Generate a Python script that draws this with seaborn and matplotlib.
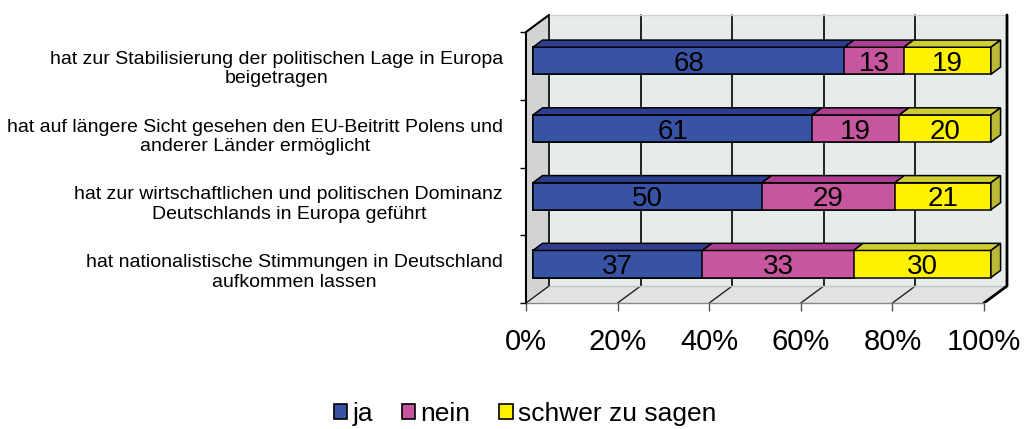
import numpy as np
import pandas as pd
import seaborn as sns
import matplotlib.pyplot as plt
from matplotlib.patches import Polygon, Patch
from matplotlib.transforms import Affine2D

# data
categories = [
    "hat zur Stabilisierung der politischen Lage in Europa\nbeigetragen",
    "hat auf längere Sicht gesehen den EU-Beitritt Polens und\nanderer Länder ermöglicht",
    "hat zur wirtschaftlichen und politischen Dominanz\nDeutschlands in Europa geführt",
    "hat nationalistische Stimmungen in Deutschland\naufkommen lassen",
]
ja = [68, 61, 50, 37]
nein = [13, 19, 29, 33]
schwer = [19, 20, 21, 30]
series = ["ja", "nein", "schwer zu sagen"]
xticks = [0, 20, 40, 60, 80, 100]
xtick_labels = [f"{t}%" for t in xticks]

front_colors = ["#3953a4", "#c6569e", "#fff200"]
top_colors = ["#2e3e90", "#ad3f93", "#cfcd34"]
side_color = "#b9b935"

sns.set_theme(style="white")
plt.rcParams["font.family"] = ["Liberation Sans", "DejaVu Sans"]
plt.rcParams["text.color"] = "black"
plt.rcParams["xtick.labelcolor"] = "black"
plt.rcParams["ytick.labelcolor"] = "black"

df = pd.DataFrame({"cat": categories, "ja": ja, "nein": nein, "schwer": schwer})
df["c1"] = df["ja"]
df["c2"] = df["ja"] + df["nein"]
df["c3"] = df["c2"] + df["schwer"]

W, H = 1024, 429
fig = plt.figure(figsize=(W / 100, H / 100), dpi=100)
ax = fig.add_axes([526 / W, (H - 303) / H, (1012 - 526) / W, (303 - 13) / H])

# 3D look: depth vector in data units (y axis is inverted by seaborn)
PX = (984 - 526) / 100
DX = 23 / PX
DY = -17 / 67.75
F0, BD = 0.3, 0.42
BAR_H = 0.4
ox, oy = F0 * DX, F0 * DY
ybot, ytop = 3.5, -0.5

# walls and floor
ax.add_patch(Polygon([(DX, ybot + DY), (100 + DX, ybot + DY), (100 + DX, ytop + DY), (DX, ytop + DY)],
                     fc="#e6ebeb", ec="none", zorder=0))
ax.add_patch(Polygon([(0, ybot), (DX, ybot + DY), (DX, ytop + DY), (0, ytop)],
                     fc="#d2d3d4", ec="none", zorder=0))
ax.add_patch(Polygon([(0, ybot), (100, ybot), (100 + DX, ybot + DY), (DX, ybot + DY)],
                     fc="#e1e2e3", ec="none", zorder=0))
for t in xticks[:-1]:
    ax.plot([t + DX, t + DX], [ybot + DY, ytop + DY], color="black", lw=1.2, zorder=0.5)
    ax.plot([t, t + DX], [ybot, ybot + DY], color="#222222", lw=1, zorder=0.5, clip_on=False)
ax.plot([DX, 100 + DX], [ybot + DY, ybot + DY], color="#c4c4c4", lw=1, zorder=0.5)
ax.plot([DX, 100 + DX], [ytop + DY, ytop + DY], color="#cfcfcf", lw=1, zorder=0.5)
ax.plot([0, 100], [ybot, ybot], color="#888888", lw=1, zorder=0.5, clip_on=False)
ax.plot([100 + DX, 100 + DX, 100], [ytop + DY, ybot + DY, ybot], color="black", lw=2, zorder=0.5)
ax.plot([0, 0, DX], [ybot, ytop, ytop + DY], color="black", lw=1.5, zorder=0.5, clip_on=False)

# stacked bars (front faces), drawn back to front
n0 = len(ax.patches)
for col, color in [("c3", front_colors[2]), ("c2", front_colors[1]), ("c1", front_colors[0])]:
    sns.barplot(data=df, x=col, y="cat", order=categories, color=color, saturation=1,
                width=BAR_H, edgecolor="black", linewidth=1.1, orient="h", errorbar=None, ax=ax)
for p in ax.patches[n0:]:
    p.set_transform(Affine2D().translate(ox, oy) + ax.transData)
    p.set_zorder(3)

# top and side faces + value labels
for i, row in df.iterrows():
    starts = [0, row["c1"], row["c2"]]
    ends = [row["c1"], row["c2"], row["c3"]]
    vals = [row["ja"], row["nein"], row["schwer"]]
    yt = i - BAR_H / 2 + oy
    yb = i + BAR_H / 2 + oy
    for x0, x1, v, tc in zip(starts, ends, vals, top_colors):
        ax.add_patch(Polygon([(x0 + ox, yt), (x1 + ox, yt), (x1 + ox + BD * DX, yt + BD * DY),
                              (x0 + ox + BD * DX, yt + BD * DY)],
                             fc=tc, ec="black", lw=1.1, zorder=3))
        ax.text((x0 + x1) / 2 + ox, i + oy, str(v), ha="center", va="center_baseline",
                fontsize=20, color="black", zorder=4)
    x1 = ends[-1] + ox
    ax.add_patch(Polygon([(x1, yt), (x1, yb), (x1 + BD * DX, yb + BD * DY), (x1 + BD * DX, yt + BD * DY)],
                         fc=side_color, ec="black", lw=1.1, zorder=3))

ax.set_xlim(0, (1012 - 526) / PX)
ax.set_ylim(ybot, ybot - (303 - 13) / 67.75)
ax.set_xlabel("")
ax.set_ylabel("")
for s in ax.spines.values():
    s.set_visible(False)

ax.set_xticks(xticks, xtick_labels)
ax.tick_params(axis="x", length=6, width=1, color="#555555", pad=12, labelsize=21,
               direction="out", bottom=True)
ax.set_yticks(range(len(categories)), categories)
ax.set_yticks(np.arange(-0.5, len(categories), 1), minor=True)
ax.tick_params(axis="y", which="major", length=0, pad=16.5, labelsize=14)
ax.tick_params(axis="y", which="minor", length=4.5, width=1, color="black", direction="out", left=True)
for lab in ax.get_yticklabels():
    lab.set_multialignment("center")
    lab.set_linespacing(1.2)

handles = [Patch(fc=c, ec="black", lw=1.2) for c in front_colors]
fig.legend(handles, series, loc="center", bbox_to_anchor=(525 / W, 1 - 414 / H), ncol=3,
           frameon=False, fontsize=19, handlelength=0.5, handleheight=0.5,
           handletextpad=0.2, columnspacing=1.1)

fig.savefig("out.png", dpi=100)
